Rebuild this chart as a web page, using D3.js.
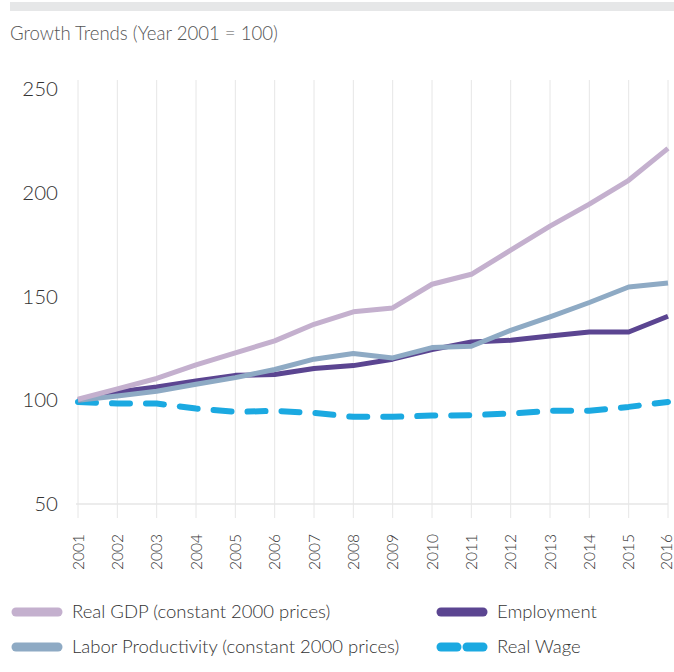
<!DOCTYPE html>
<html><head><meta charset="utf-8">
<script src="https://cdn.jsdelivr.net/npm/d3@7"></script>
<style>
html,body{margin:0;padding:0;background:#fff;}
svg{display:block;font-family:Lato,"Open Sans",sans-serif;}
</style></head>
<body>
<script>
const years = [2001,2002,2003,2004,2005,2006,2007,2008,2009,2010,2011,2012,2013,2014,2015,2016];
const realGDP = [100.5,105.5,110.5,117,122.8,128.6,136.6,142.6,144.5,155.9,160.7,172.3,183.9,194.5,206,221.4];
const employment = [100,104,106.4,109.3,112,112.4,115.3,116.7,119.8,124.4,128.1,128.9,131,132.9,132.9,140.5];
const productivity = [100,102,104.3,107.7,110.9,114.8,119.8,122.5,120.4,125.4,126,133.7,140.2,147.1,154.6,156.5];
const realWage = [99.2,98.4,98.4,96,94.4,94.9,93.9,92,92,92.6,92.8,93.6,94.9,94.9,96.8,99.2];
const yTicks = [50,100,150,200,250];
const title = "Growth Trends (Year 2001 = 100)";
const seriesNames = ["Real GDP (constant 2000 prices)","Employment","Labor Productivity (constant 2000 prices)","Real Wage"];

const W=674,H=672;
const svg=d3.select("body").append("svg").attr("width",W).attr("height",H);

svg.append("rect").attr("x",10).attr("y",2).attr("width",W-10).attr("height",9).attr("fill","#e6e7e8");
svg.append("text").attr("x",10).attr("y",40).attr("font-size",18.6).attr("font-weight",300).attr("fill","#555").text(title);

const x=d3.scalePoint().domain(years).range([78,668]);
const y=d3.scaleLinear().domain([50,250]).range([504,89]);

// vertical grid
svg.append("g").selectAll("line").data(years).join("line")
  .attr("x1",d=>x(d)).attr("x2",d=>x(d)).attr("y1",80).attr("y2",518)
  .attr("stroke","#e6e6e6").attr("stroke-width",1);
svg.append("line").attr("x1",76).attr("x2",668).attr("y1",y(50)).attr("y2",y(50)).attr("stroke","#e6e6e6").attr("stroke-width",1.5);

// y labels
svg.append("g").selectAll("text").data(yTicks).join("text")
  .attr("x",58).attr("y",d=>y(d)).attr("dy","0.35em").attr("text-anchor","end")
  .attr("font-size",20.5).attr("font-weight",300).attr("fill","#333").text(d=>d);

// x labels
svg.append("g").selectAll("text").data(years).join("text")
  .attr("transform",d=>`translate(${Math.min(x(d)+5.5,672)},534) rotate(-90)`)
  .attr("text-anchor","end").attr("font-size",15.5).attr("font-weight",300).attr("fill","#333").text(d=>d);

const line=d3.line().x((d,i)=>x(years[i])).y(d=>y(d));
const series=[
  {v:realWage,c:"#1ba9e1",dash:"18 16"},
  {v:employment,c:"#5b4591"},
  {v:productivity,c:"#8eaac4"},
  {v:realGDP,c:"#c4b0ce"}
];
series.forEach(s=>{
  svg.append("path").attr("d",line(s.v)).attr("fill","none").attr("stroke",s.c)
    .attr("stroke-width",s.dash?6:5).attr("stroke-linejoin","round")
    .attr("stroke-linecap",s.dash?"round":"butt")
    .attr("stroke-dasharray",s.dash||null);
});

// legend
const leg=[
  {n:seriesNames[0],c:"#c4b0ce",x:16,y:612},
  {n:seriesNames[1],c:"#5b4591",x:441,y:612},
  {n:seriesNames[2],c:"#8eaac4",x:16,y:647},
  {n:seriesNames[3],c:"#1ba9e1",x:441,y:647,dash:true}
];
leg.forEach(l=>{
  if(l.dash){
    svg.append("line").attr("x1",l.x).attr("x2",l.x+16).attr("y1",l.y).attr("y2",l.y)
      .attr("stroke",l.c).attr("stroke-width",9).attr("stroke-linecap","round");
    svg.append("line").attr("x1",l.x+26).attr("x2",l.x+42).attr("y1",l.y).attr("y2",l.y)
      .attr("stroke",l.c).attr("stroke-width",9).attr("stroke-linecap","round");
  } else {
    svg.append("line").attr("x1",l.x).attr("x2",l.x+42).attr("y1",l.y).attr("y2",l.y)
      .attr("stroke",l.c).attr("stroke-width",9).attr("stroke-linecap","round");
  }
  svg.append("text").attr("x",l.x+56).attr("y",l.y).attr("dy","0.35em")
    .attr("font-size",18.5).attr("font-weight",300).attr("fill","#333").text(l.n);
});
</script>
</body></html>
